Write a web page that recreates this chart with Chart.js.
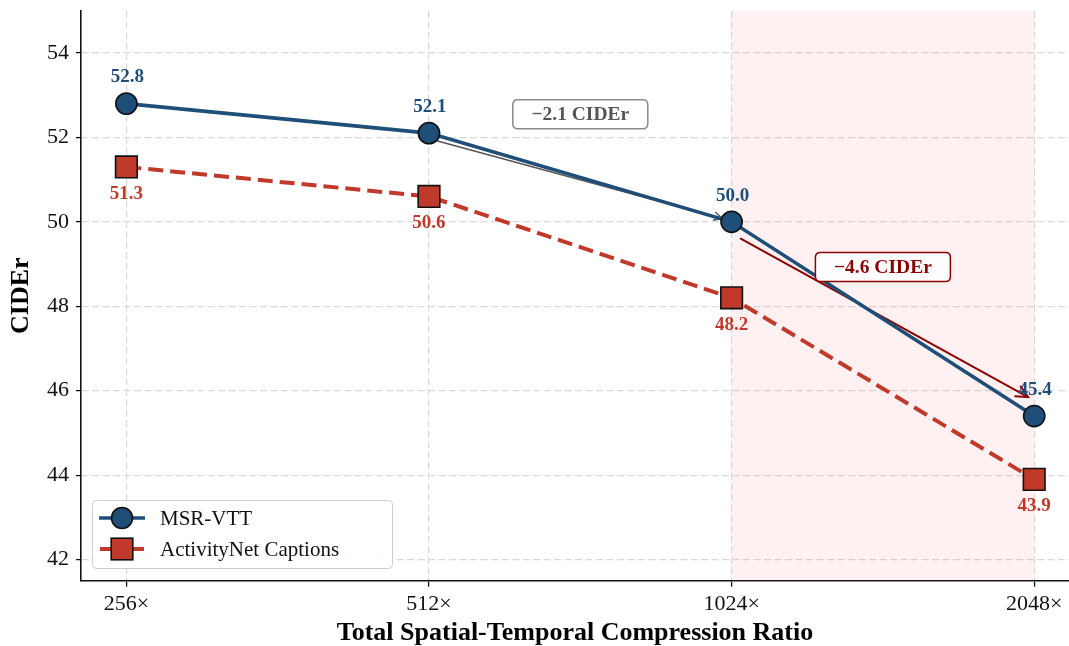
<!DOCTYPE html>
<html><head><meta charset="utf-8">
<script src="https://cdn.jsdelivr.net/npm/chart.js@4"></script>
<style>html,body{margin:0;padding:0;background:#fff;} #wrap{width:1069px;height:646px;position:relative;}</style>
</head><body><div id="wrap"><canvas id="c" width="1069" height="646"></canvas></div>
<script>
const categories = ['256×', '512×', '1024×', '2048×'];
const msrVtt = [52.8, 52.1, 50.0, 45.4];
const activityNet = [51.3, 50.6, 48.2, 43.9];
const yTicks = [42, 44, 46, 48, 50, 52, 54];
const seriesNames = ['MSR-VTT', 'ActivityNet Captions'];
const xTitle = 'Total Spatial-Temporal Compression Ratio';
const yTitle = 'CIDEr';
const boxLabels = ['−2.1 CIDEr', '−4.6 CIDEr'];
const boxAnchors = [[1.5, 52.55], [2.5, 48.93]];
const arrowStarts = [[1.01, 51.95], [2.03, 49.6]];
const arrowEnds = [[1.97, 50.08], [2.98, 45.85]];
const shadedRange = [2, 3];

const BLUE = '#1f4e79', RED = '#c0392b', DARKRED = '#8b0000', GRAY = '#555555';
const SERIF = "'Liberation Serif', 'DejaVu Serif', serif";
Chart.defaults.font.family = SERIF;
Chart.defaults.color = '#111';

function drawArrow(ctx, x1, y1, x2, y2, color, width, headLen, headAng) {
  ctx.save();
  ctx.strokeStyle = color; ctx.lineWidth = width; ctx.lineCap = 'round';
  ctx.beginPath(); ctx.moveTo(x1, y1); ctx.lineTo(x2, y2); ctx.stroke();
  const a = Math.atan2(y2 - y1, x2 - x1);
  ctx.beginPath();
  ctx.moveTo(x2 - headLen * Math.cos(a - headAng), y2 - headLen * Math.sin(a - headAng));
  ctx.lineTo(x2, y2);
  ctx.lineTo(x2 - headLen * Math.cos(a + headAng), y2 - headLen * Math.sin(a + headAng));
  ctx.stroke();
  ctx.restore();
}
function roundRect(ctx, x, y, w, h, r) {
  ctx.beginPath();
  ctx.moveTo(x + r, y); ctx.lineTo(x + w - r, y); ctx.quadraticCurveTo(x + w, y, x + w, y + r);
  ctx.lineTo(x + w, y + h - r); ctx.quadraticCurveTo(x + w, y + h, x + w - r, y + h);
  ctx.lineTo(x + r, y + h); ctx.quadraticCurveTo(x, y + h, x, y + h - r);
  ctx.lineTo(x, y + r); ctx.quadraticCurveTo(x, y, x + r, y); ctx.closePath();
}

const shadePlugin = {
  id: 'shade',
  beforeDatasetsDraw(chart) {
    const {ctx, chartArea, scales} = chart;
    const x1 = scales.x.getPixelForValue(shadedRange[0]);
    const x2 = scales.x.getPixelForValue(shadedRange[1]);
    ctx.save();
    ctx.fillStyle = 'rgba(255,90,90,0.085)';
    ctx.fillRect(x1, chartArea.top, x2 - x1, chartArea.bottom - chartArea.top);
    const cols = [GRAY, DARKRED], widths = [1.5, 2], heads = [9, 13];
    for (let i = 0; i < 2; i++) {
      drawArrow(ctx,
        scales.x.getPixelForValue(arrowStarts[i][0]), scales.y.getPixelForValue(arrowStarts[i][1]),
        scales.x.getPixelForValue(arrowEnds[i][0]), scales.y.getPixelForValue(arrowEnds[i][1]),
        cols[i], widths[i], heads[i], 0.45);
    }
    ctx.restore();
  }
};

const labelPlugin = {
  id: 'labels',
  afterDatasetsDraw(chart) {
    const {ctx, scales} = chart;
    ctx.save();
    ctx.font = 'bold 19px ' + SERIF;
    ctx.textAlign = 'center'; ctx.textBaseline = 'middle';
    msrVtt.forEach((v, i) => {
      ctx.fillStyle = BLUE;
      ctx.fillText(v.toFixed(1), scales.x.getPixelForValue(i) + 1, scales.y.getPixelForValue(v) - 26);
    });
    activityNet.forEach((v, i) => {
      ctx.fillStyle = RED;
      ctx.fillText(v.toFixed(1), scales.x.getPixelForValue(i), scales.y.getPixelForValue(v) + 27);
    });
    const txtCols = [GRAY, DARKRED], borderCols = ['#8a8a8a', DARKRED];
    ctx.font = 'bold 19.5px ' + SERIF;
    for (let i = 0; i < 2; i++) {
      const cx = scales.x.getPixelForValue(boxAnchors[i][0]);
      const cy = scales.y.getPixelForValue(boxAnchors[i][1]);
      const w = 135, h = 29;
      roundRect(ctx, cx - w / 2, cy - h / 2, w, h, 5);
      ctx.fillStyle = 'rgba(255,255,255,0.95)'; ctx.fill();
      ctx.strokeStyle = borderCols[i]; ctx.lineWidth = 1.5; ctx.stroke();
      ctx.fillStyle = txtCols[i];
      ctx.fillText(boxLabels[i], cx, cy + 1);
    }
    const lx = 92.5, ly = 500.5, lw = 300, lh = 68;
    roundRect(ctx, lx, ly, lw, lh, 4);
    ctx.fillStyle = 'rgba(255,255,255,0.85)'; ctx.fill();
    ctx.strokeStyle = '#cccccc'; ctx.lineWidth = 1; ctx.stroke();
    const rows = [518, 549];
    ctx.strokeStyle = BLUE; ctx.lineWidth = 3.5;
    ctx.beginPath(); ctx.moveTo(99, rows[0]); ctx.lineTo(145, rows[0]); ctx.stroke();
    ctx.beginPath(); ctx.arc(122, rows[0], 10.5, 0, Math.PI * 2);
    ctx.fillStyle = BLUE; ctx.fill(); ctx.strokeStyle = '#111'; ctx.lineWidth = 1.6; ctx.stroke();
    ctx.strokeStyle = RED; ctx.lineWidth = 4;
    ctx.beginPath(); ctx.moveTo(100, rows[1]); ctx.lineTo(112, rows[1]); ctx.moveTo(132, rows[1]); ctx.lineTo(144, rows[1]); ctx.stroke();
    ctx.fillStyle = RED; ctx.fillRect(111.2, rows[1] - 10.8, 21.6, 21.6);
    ctx.strokeStyle = '#111'; ctx.lineWidth = 1.6; ctx.strokeRect(111.2, rows[1] - 10.8, 21.6, 21.6);
    ctx.fillStyle = '#111'; ctx.textAlign = 'left'; ctx.font = '21px ' + SERIF;
    ctx.fillText(seriesNames[0], 160, rows[0] + 1);
    ctx.fillText(seriesNames[1], 160, rows[1] + 1);
    ctx.restore();
  }
};

new Chart(document.getElementById('c'), {
  type: 'line',
  data: {
    datasets: [
      {
        label: seriesNames[0],
        data: msrVtt.map((v, i) => ({x: i, y: v})),
        borderColor: BLUE, backgroundColor: BLUE, borderWidth: 3.6,
        pointStyle: 'circle', pointRadius: 10.6, pointHoverRadius: 10.6,
        pointBackgroundColor: BLUE, pointBorderColor: '#111', pointBorderWidth: 1.6,
        tension: 0, fill: false
      },
      {
        label: seriesNames[1],
        data: activityNet.map((v, i) => ({x: i, y: v})),
        borderColor: RED, backgroundColor: RED, borderWidth: 4, borderDash: [15, 7],
        pointStyle: 'rect', pointRadius: 15.3, pointHoverRadius: 15.3,
        pointBackgroundColor: RED, pointBorderColor: '#111', pointBorderWidth: 1.6,
        tension: 0, fill: false
      }
    ]
  },
  options: {
    responsive: false, animation: false, devicePixelRatio: 1,
    layout: {autoPadding: false, padding: {top: 10.7, left: 0, right: 0, bottom: 0}},
    plugins: {legend: {display: false}, tooltip: {enabled: false}},
    scales: {
      x: {
        type: 'linear', min: -0.15, max: 3.115,
        afterBuildTicks: s => { s.ticks = categories.map((c, i) => ({value: i})); },
        afterFit: s => { s.height = 65.3; s.paddingLeft = 0; s.paddingRight = 0; },
        ticks: {callback: (v) => categories[v], font: {size: 22}, color: '#111', padding: 4, maxRotation: 0, autoSkip: false},
        grid: {color: '#d9d9d9', lineWidth: 1.2, drawTicks: true, tickLength: 6, tickColor: '#111', tickWidth: 1.3},
        border: {display: true, color: '#111', width: 1.6, dash: [7, 3.5]},
        title: {display: true, text: xTitle, font: {size: 26, weight: 'bold', lineHeight: 1}, color: '#000', padding: {top: 0, bottom: 0}}
      },
      y: {
        type: 'linear', min: 41.5, max: 55,
        afterBuildTicks: s => { s.ticks = yTicks.map(v => ({value: v})); },
        afterFit: s => { s.width = 81; s.paddingTop = 0; s.paddingBottom = 0; },
        ticks: {font: {size: 22}, color: '#111', padding: 7},
        grid: {color: '#d9d9d9', lineWidth: 1.2, drawTicks: true, tickLength: 5, tickColor: '#111', tickWidth: 1.3},
        border: {display: true, color: '#111', width: 1.6, dash: [7, 3.5]},
        title: {display: true, text: yTitle, font: {size: 26, weight: 'bold', lineHeight: 1}, color: '#000', padding: {top: 8, bottom: 0}}
      }
    }
  },
  plugins: [shadePlugin, labelPlugin]
});
</script></body></html>
